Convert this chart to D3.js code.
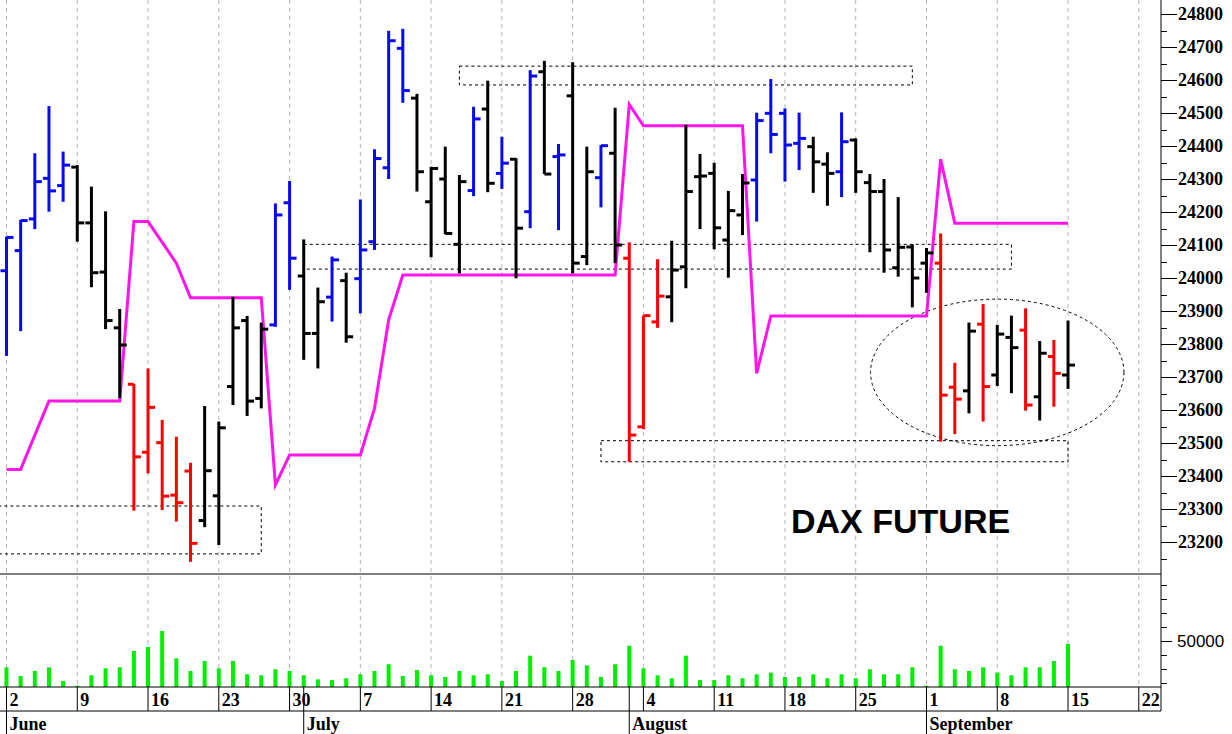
<!DOCTYPE html>
<html><head><meta charset="utf-8">
<script src="https://cdn.jsdelivr.net/npm/d3@7"></script>
<style>body{margin:0;background:#fff}svg{display:block}</style>
</head><body>
<svg id="c" width="1232" height="734"></svg>
<script>
// ---------- DATA ----------
const openV  = [24022,24083,24179,24302,24280,24336,24167,24018,23849,23678,23472,23501,23342,23415,23265,23340,23671,23871,23635,23858,
                24228,24006,23832,23942,23992,23998,24110,24334,24696,24545,24231,24300,24102,24265,24512,24317,24360,24201,24625,24368,
                24552,24065,24304,24378,24060,23549,23867,23943,24034,24307,24317,24115,24191,24297,24499,24499,24408,24398,24345,24322,
                24418,24289,24262,24031,24094,24045,24045,23669,23658,23860,23706,23820,23842,23640,23762,23706];
const highV  = [24125,24176,24378,24521,24383,24342,24277,24202,23906,23679,23726,23570,23519,23440,23612,23565,23943,23885,23865,24226,
                24294,24117,23971,24065,24016,24238,24390,24749,24755,24558,24337,24398,24312,24519,24598,24428,24363,24630,24658,24406,
                24654,24398,24403,24516,24108,23886,24057,24113,24464,24376,24349,24264,24315,24501,24603,24514,24501,24428,24381,24502,
                24423,24315,24300,24245,24102,24091,24135,23743,23865,23921,23858,23886,23908,23809,23812,23871];
const lowV   = [23764,23839,24148,24201,24231,24110,23972,23845,23636,23295,23408,23297,23262,23140,23245,23191,23615,23582,23605,23852,
                23964,23752,23726,23868,23804,23893,24085,24300,24531,24262,24063,24133,24014,24248,24260,24270,23999,24151,24315,24145,
                24014,24039,24214,24045,23443,23542,23849,23866,23969,24148,24087,24001,24130,24171,24378,24292,24327,24258,24219,24245,
                24258,24078,24016,24004,23911,23955,23504,23527,23590,23565,23673,23651,23598,23568,23610,23664];
const closeV = [24123,24174,24292,24264,24342,24167,24016,23871,23797,23458,23608,23339,23319,23196,23416,23546,23849,23627,23845,24191,
                24060,23832,23928,24055,23822,24085,24362,24719,24568,24322,24332,24135,24292,24482,24287,24348,24151,24612,24315,24373,
                24045,24322,24401,24100,23524,23886,23945,24024,24262,24309,24152,24204,24288,24477,24435,24403,24423,24352,24317,24413,
                24322,24262,24085,24093,24000,24076,23645,23633,23839,23671,23830,23789,23615,23772,23711,23736];
// bar colour class: b = blue, k = black, r = red
const barClass = ["b","b","b","b","b","k","k","k","k","r","r","r","r","r","k","k","k","k","k","b",
                  "b","k","k","b","k","b","b","b","b","k","k","k","k","b","k","b","k","b","k","b",
                  "k","k","b","k","r","r","r","k","k","k","k","k","k","b","b","b","b","k","k","b",
                  "k","k","k","k","k","k","r","r","k","r","k","k","r","k","r","k"];
// magenta indicator line
const stopLine = [23420,23420,23524,23627,23627,23627,23627,23627,23627,24171,24171,24108,24045,23940,23940,23940,23940,23940,23940,23373,
                  23464,23464,23464,23464,23464,23464,23605,23873,24009,24009,24009,24009,24009,24009,24009,24009,24009,24009,24009,24009,
                  24009,24009,24009,24009,24526,24461,24461,24461,24461,24461,24461,24461,24461,23711,23885,23885,23885,23885,23885,23885,
                  23885,23885,23885,23885,23885,23885,24360,24166,24166,24166,24166,24166,24166,24166,24166,24166];
const volumeV = [31200,25000,28600,31200,21400,18100,25500,30500,31200,42900,45700,57100,37600,28600,35700,30500,35700,26200,25500,29800,
                 28600,25500,22600,22100,23400,26200,28600,33400,25000,29300,25500,24300,28600,25500,26200,21400,28600,39500,31200,28600,
                 36400,32600,24300,33400,46600,30500,25500,23400,39500,22100,22100,25500,23400,26200,27400,24300,24300,26200,23400,26200,
                 23400,29800,26200,26200,31200,18100,46600,29800,28600,31200,27400,25500,31200,31200,35700,47900];
const monthNames = ["June","July","August","September"];
const priceTicks = [23200,23300,23400,23500,23600,23700,23800,23900,24000,24100,24200,24300,24400,24500,24600,24700,24800];
const volLabelTicks = [50000];
// annotation zones: [startIndex, endIndex, priceTop, priceBottom]
const zones = [[-1,18,23309,23164],[32,64,24642,24585],[21,71,24102,24027],[42,75,23507,23443]];
const ellipseAnno = {cx:70, rxDays:8.95, cy:23714, ryPts:222};
const titleText = "DAX FUTURE";

// ---------- SCALES ----------
const svg = d3.select("#c");
const axisX = 1161, priceBottom = 574, volBottom = 687;
const days = d3.utcDays(new Date(Date.UTC(2025,5,2)), new Date(Date.UTC(2025,8,24))).filter(d => d.getUTCDay()%6 !== 0);
const x = d3.scaleLinear().domain([0,80]).range([6.5,1138.8]);
const y = d3.scaleLinear().domain([23200,24800]).range([542,14]);
const yv = d3.scaleLinear().domain([50000,100000]).range([641,571]);
const colorOf = {b:"#0a0af0", k:"#000000", r:"#ff0000"};

// gridlines at Mondays
const mondays = days.map((d,i)=>({d,i})).filter(o=>o.d.getUTCDay()===1);
svg.append("g").selectAll("line").data(mondays).join("line")
  .attr("x1",o=>x(o.i)).attr("x2",o=>x(o.i)).attr("y1",0).attr("y2",volBottom)
  .attr("stroke","#b4b4b4").attr("stroke-width",1).attr("stroke-dasharray","4,4");

// zones
const dash = "3,3";
svg.append("g").selectAll("rect").data(zones).join("rect")
  .attr("x",z=>x(z[0])).attr("y",z=>y(z[2]))
  .attr("width",z=>x(z[1])-x(z[0])).attr("height",z=>y(z[3])-y(z[2]))
  .attr("fill","none").attr("stroke","#000").attr("stroke-width",1).attr("stroke-dasharray",dash);
svg.append("ellipse")
  .attr("cx",x(ellipseAnno.cx)).attr("cy",y(ellipseAnno.cy))
  .attr("rx",x(ellipseAnno.rxDays)-x(0)).attr("ry",y(ellipseAnno.cy-ellipseAnno.ryPts)-y(ellipseAnno.cy))
  .attr("fill","none").attr("stroke","#000").attr("stroke-width",1).attr("stroke-dasharray",dash);

// magenta line
svg.append("path").datum(stopLine)
  .attr("d", d3.line().x((d,i)=>x(i)).y(d=>y(d)))
  .attr("fill","none").attr("stroke","#ff14ec").attr("stroke-width",3).attr("stroke-linejoin","miter");

// OHLC bars
const bars = svg.append("g").selectAll("g").data(openV.map((o,i)=>({i,o,h:highV[i],l:lowV[i],c:closeV[i],k:barClass[i]}))).join("g")
  .attr("stroke",d=>colorOf[d.k]).attr("stroke-width",3);
bars.append("line").attr("x1",d=>x(d.i)).attr("x2",d=>x(d.i)).attr("y1",d=>y(d.h)).attr("y2",d=>y(d.l));
bars.append("line").attr("x1",d=>x(d.i)-6).attr("x2",d=>x(d.i)).attr("y1",d=>y(d.o)).attr("y2",d=>y(d.o));
bars.append("line").attr("x1",d=>x(d.i)).attr("x2",d=>x(d.i)+7).attr("y1",d=>y(d.c)).attr("y2",d=>y(d.c));

// volume bars
svg.append("g").selectAll("rect").data(volumeV).join("rect")
  .attr("x",(d,i)=>x(i)-2).attr("width",4)
  .attr("y",d=>yv(d)).attr("height",d=>volBottom-yv(d))
  .attr("fill","#00ee00");

// frame lines
svg.append("line").attr("x1",0).attr("x2",axisX).attr("y1",priceBottom).attr("y2",priceBottom).attr("stroke","#000");
svg.append("line").attr("x1",0).attr("x2",axisX).attr("y1",volBottom).attr("y2",volBottom).attr("stroke","#000");
svg.append("line").attr("x1",0).attr("x2",axisX).attr("y1",711).attr("y2",711).attr("stroke","#000");
svg.append("line").attr("x1",axisX).attr("x2",axisX).attr("y1",0).attr("y2",711).attr("stroke","#000");

// price axis
const minorP = d3.range(23150,24851,50);
svg.append("g").selectAll("line").data(minorP).join("line")
  .attr("x1",axisX).attr("x2",d=>d%100===0?axisX+16:axisX+6)
  .attr("y1",d=>Math.round(y(d))+0.5).attr("y2",d=>Math.round(y(d))+0.5).attr("stroke","#000");
svg.append("g").selectAll("text").data(priceTicks).join("text")
  .attr("x",1178).attr("y",d=>y(d)+6)
  .attr("font-family","'Liberation Serif','Times New Roman',serif").attr("font-weight","bold").attr("font-size",18)
  .text(d=>d);

// volume axis
const minorV = d3.range(20000,90001,10000);
svg.append("g").selectAll("line").data(minorV).join("line")
  .attr("x1",axisX).attr("x2",d=>d%50000===0?axisX+11:axisX+6)
  .attr("y1",d=>Math.round(yv(d))+0.5).attr("y2",d=>Math.round(yv(d))+0.5).attr("stroke","#000");
svg.append("g").selectAll("text").data(volLabelTicks).join("text")
  .attr("x",1177).attr("y",d=>yv(d)+6)
  .attr("font-family","'Liberation Sans',Arial,sans-serif").attr("font-size",17)
  .text(d=>d);

// date row
const serif = "'Liberation Serif','Times New Roman',serif";
svg.append("g").selectAll("line").data(mondays).join("line")
  .attr("x1",o=>x(o.i)).attr("x2",o=>x(o.i)).attr("y1",volBottom).attr("y2",711).attr("stroke","#000");
svg.append("g").selectAll("text").data(mondays).join("text")
  .attr("x",o=>x(o.i)+3).attr("y",706)
  .attr("font-family",serif).attr("font-weight","bold").attr("font-size",18)
  .text(o=>o.d.getUTCDate());
const monthStarts = days.map((d,i)=>({d,i})).filter(o=>o.i===0 || o.d.getUTCMonth()!==days[o.i-1].getUTCMonth());
svg.append("g").selectAll("line").data(monthStarts).join("line")
  .attr("x1",o=>x(o.i)).attr("x2",o=>x(o.i)).attr("y1",volBottom).attr("y2",734).attr("stroke","#000");
svg.append("g").selectAll("text").data(monthStarts).join("text")
  .attr("x",o=>x(o.i)+3).attr("y",730)
  .attr("font-family",serif).attr("font-weight","bold").attr("font-size",18)
  .text((o,k)=>monthNames[k]);

// title
svg.append("text").attr("x",791).attr("y",533)
  .attr("font-family","'Liberation Sans',Arial,sans-serif").attr("font-weight","bold").attr("font-size",34)
  .text(titleText);
</script>
</body></html>
